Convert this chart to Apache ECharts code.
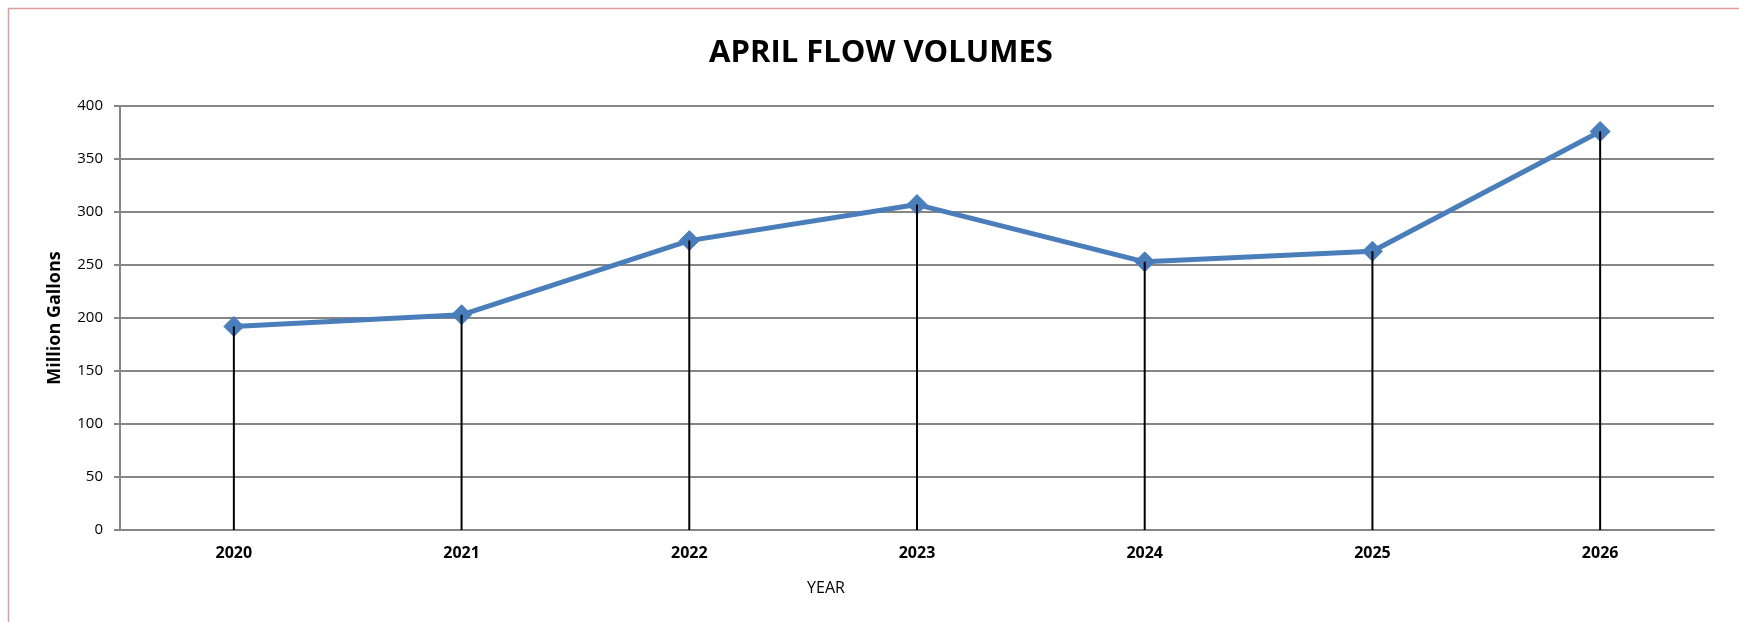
<!DOCTYPE html>
<html>
<head>
<meta charset="utf-8">
<script src="https://cdn.jsdelivr.net/npm/echarts@6/dist/echarts.min.js"></script>
<style>
html,body{margin:0;padding:0;background:#fff;}
#chart{width:1739px;height:622px;}
</style>
</head>
<body>
<div id="chart"></div>
<script>
const categories = ['2020','2021','2022','2023','2024','2025','2026'];
const flowValues = [192, 203, 273, 307, 253, 263, 376];
const yTicks = { min: 0, max: 400, interval: 50 };

const FONT = '"Open Sans", "Noto Sans", sans-serif';
const chart = echarts.init(document.getElementById('chart'), null, {renderer:'canvas'});
chart.setOption({
  backgroundColor: '#ffffff',
  animation: false,
  title: {
    text: 'APRIL FLOW VOLUMES',
    left: 876, top: 33,
    textAlign: 'center',
    textStyle: { fontFamily: FONT, fontWeight: 'bold', fontSize: 31, color: '#000' }
  },
  graphic: [
    { type: 'rect', shape: { x: 8.5, y: 8.5, width: 1800, height: 700 },
      style: { fill: 'none', stroke: '#E09C9C', lineWidth: 1.5 }, silent: true },
    { type: 'text', x: 826, y: 588,
      style: { text: 'YEAR', fontFamily: FONT, fontSize: 16, fill: '#000', align: 'center', verticalAlign: 'middle' } }
  ],
  grid: { left: 120, right: 25, top: 106, bottom: 92, containLabel: false },
  xAxis: {
    type: 'category',
    data: categories,
    boundaryGap: true,
    axisLine: { lineStyle: { color: '#868686', width: 2 } },
    axisTick: { show: false },
    axisLabel: { fontFamily: FONT, fontWeight: 'bold', fontSize: 16, color: '#000', margin: 15 }
  },
  yAxis: {
    type: 'value',
    min: yTicks.min, max: yTicks.max, interval: yTicks.interval,
    name: 'Million Gallons',
    nameLocation: 'middle',
    nameGap: 56,
    nameRotate: 90,
    nameTextStyle: { fontFamily: FONT, fontWeight: 'bold', fontSize: 18, color: '#000' },
    axisLine: { show: true, lineStyle: { color: '#868686', width: 2 } },
    axisTick: { show: true, inside: false, length: 6, lineStyle: { color: '#868686', width: 2 } },
    axisLabel: { fontFamily: FONT, fontSize: 15, color: '#000', margin: 17 },
    splitLine: { show: true, lineStyle: { color: '#868686', width: 2 } }
  },
  series: [
    {
      type: 'line',
      data: flowValues,
      z: 2,
      symbol: 'diamond',
      symbolSize: 20,
      lineStyle: { color: '#4A7EBB', width: 5 },
      itemStyle: { color: '#4A7EBB', borderColor: '#4A7EBB', borderWidth: 1 }
    },
    {
      type: 'bar',
      data: flowValues,
      z: 3,
      barWidth: 2,
      itemStyle: { color: '#000' },
      silent: true
    }
  ]
});
</script>
</body>
</html>
